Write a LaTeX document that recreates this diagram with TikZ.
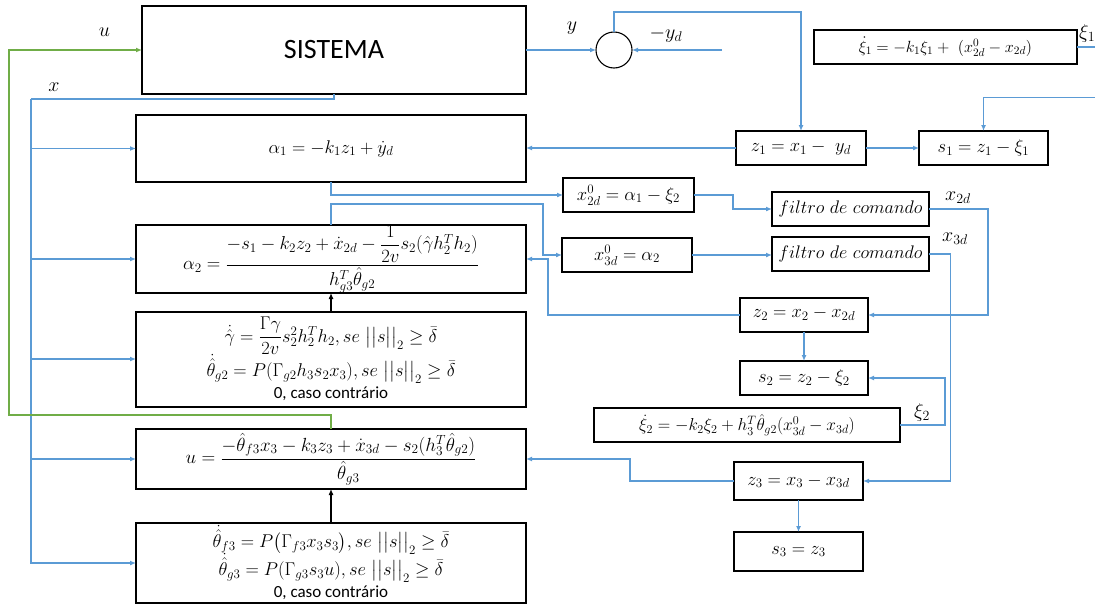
\RequirePackage{fix-cm}
\documentclass[tikz,border=0pt]{standalone}
\usepackage{amsmath}
\usepackage{fontspec}
\newfontfamily\calib{Carlito}
\usetikzlibrary{arrows.meta}
\definecolor{lblue}{RGB}{91,155,213}
\definecolor{lgreen}{RGB}{112,173,71}
\newcommand{\fs}[1]{\fontsize{#1}{#1}\selectfont}
\begin{document}
\begin{tikzpicture}[x=1pt,y=-1pt,
  box/.style={draw=black, line width=1.1pt, inner sep=0pt, outer sep=0pt,
    font=\fs{18.5}, align=center},
  txt/.style={inner sep=0pt, outer sep=0pt},
  bl/.style={draw=lblue, line width=1.5pt, -{Latex[length=6pt,width=5pt]}},
  bln/.style={draw=lblue, line width=1.5pt},
  gr/.style={draw=lgreen, line width=1.5pt, -{Latex[length=6pt,width=5pt]}},
  bk/.style={draw=black, line width=1.1pt, -{Latex[length=6pt,width=5pt]}},
  lab/.style={inner sep=0pt, font=\fs{20}}]
\useasboundingbox (0,0) rectangle (1095,608);
\fill[white] (0,0) rectangle (1095,608);

% boxes
\node[box, minimum width=384pt, minimum height=88pt] (sis) at (334,50) {\calib\fs{28}SISTEMA};
\node[box, font=\fs{18.4}, minimum width=390pt, minimum height=67pt] (a1) at (331,148.5) {$\alpha_1 = -k_1 z_1 + \dot{y}_d$};
\node[box, font=\fs{18.7}, minimum width=390pt, minimum height=68pt] (a2) at (331,259) {$\alpha_2 = \dfrac{-s_1 - k_2 z_2 + \dot{x}_{2d} - \dfrac{1}{2v}s_2(\hat{\gamma}h_2^T h_2)}{h_{g3}^T\hat{\theta}_{g2}}$};
\node[box, minimum width=390pt, minimum height=95pt] (gam) at (331,359.5) {};
\node[txt, font=\fs{18.5}] (gam1) at (331,336) {$\dot{\hat{\gamma}} = \dfrac{\Gamma\gamma}{2v}s_2^2h_2^Th_2, se\ \big|\big|s\big|\big|_2 \ge \bar{\delta}$};
\node[txt, font=\fs{18.5}] (gam2) at (331,369) {$\dot{\hat{\theta}}_{g2} = P(\Gamma_{g2}h_3s_2x_3), se\ \big|\big|s\big|\big|_2 \ge \bar{\delta}$};
\node[txt] (gam3) at (331,394) {\calib\fs{17}0, caso contrário};
\node[box, font=\fs{19}, minimum width=390pt, minimum height=60pt] (ub) at (331,459) {$u = \dfrac{-\hat{\theta}_{f3}x_3 - k_3 z_3 + \dot{x}_{3d} - s_2(h_3^T\hat{\theta}_{g2})}{\hat{\theta}_{g3}}$};
\node[box, minimum width=390pt, minimum height=80pt] (th) at (331,563) {};
\node[txt, font=\fs{18.5}] (th1) at (331,540) {$\dot{\hat{\theta}}_{f3} = P\big(\Gamma_{f3}x_3s_3\big), se\ \big|\big|s\big|\big|_2 \ge \bar{\delta}$};
\node[txt, font=\fs{18.5}] (th2) at (331,568) {$\dot{\hat{\theta}}_{g3} = P(\Gamma_{g3}s_3u), se\ \big|\big|s\big|\big|_2 \ge \bar{\delta}$};
\node[txt] (th3) at (331,593) {\calib\fs{17}0, caso contrário};
\node[draw=black, line width=1.1pt, circle, minimum size=36pt, inner sep=0pt, outer sep=0pt] (sum) at (614,50) {};
\node[box, minimum width=130pt, minimum height=34pt] (z1) at (801,148) {$z_1 = x_1 -\ y_d$};
\node[box, minimum width=129pt, minimum height=34pt] (s1) at (983.5,148) {$s_1 = z_1 - \xi_1$};
\node[box, font=\fs{16.2}, minimum width=263pt, minimum height=34pt] (xi1) at (945.5,47) {$\dot{\xi}_1 = -k_1\xi_1 +\ (x_{2d}^0 - x_{2d})$};
\node[box, minimum width=131pt, minimum height=34pt] (x2d0) at (628.5,195) {$x_{2d}^0 = \alpha_1 - \xi_2$};
\node[box, minimum width=130pt, minimum height=34pt] (x3d0) at (627,255) {$x_{3d}^0 = \alpha_2$};
\node[box, font=\fs{18.2}, minimum width=157pt, minimum height=34pt] (f1) at (850.5,209) {$filtro\ de\ comando$};
\node[box, font=\fs{18.2}, minimum width=157pt, minimum height=34pt] (f2) at (850.5,254) {$filtro\ de\ comando$};
\node[box, minimum width=128pt, minimum height=34pt] (z2) at (804,315) {\raisebox{6pt}{$z_2 = x_2 - x_{2d}$}};
\node[box, minimum width=128pt, minimum height=34pt] (s2) at (804,378) {$s_2 = z_2 - \xi_2$};
\node[box, font=\fs{17.3}, minimum width=306pt, minimum height=34pt] (xi2) at (747,425) {$\dot{\xi}_2 = -k_2\xi_2 + h_3^T\hat{\theta}_{g2}(x_{3d}^0 - x_{3d})$};
\node[box, minimum width=129pt, minimum height=38pt] (z3) at (798.5,481) {$z_3 = x_3 - x_{3d}$};
\node[box, minimum width=129pt, minimum height=39pt] (s3) at (798.5,551.5) {$s_3 = z_3$};

% labels
\node[lab] (lu) at (104.5,32) {$u$};
\node[lab] (lx) at (54,87) {$x$};
\node[lab] (ly) at (572,28) {$y$};
\node[lab] (lyd) at (666,35) {$-y_d$};
\node[lab] (lx2d) at (958,198) {$x_{2d}$};
\node[lab] (lx3d) at (955,239) {$x_{3d}$};
\node[lab, anchor=west] (lxi1) at (1079,33) {$\xi_1$};
\node[lab] (lxi2) at (922,412) {$\xi_2$};

% coordinates
\coordinate (yd) at (722,50);
\coordinate (xi1out) at (1095,47);
\coordinate (s1in) at (1095,97.7);
\coordinate (xc) at (31,99);

% system output / sum
\draw[bl] (sis.east) -- (sum.west);
\draw[bl] (yd) -- (sum.east);
\draw[bl] (sum.north) |- (801,12) -- (z1.north);
\draw[bl] (z1.east) -- (s1.west);
\draw[bl] (z1.west) -- (z1.west -| a1.east);
\draw[bln] (xi1.east) -- (xi1out);
\draw[bl] (s1in) -| (s1.north);

% state x bus
\draw[bln] (sis.south) |- (xc);
\draw[bl] (xc) |- (th.west);
\draw[bl] (xc |- a1.west) -- (a1.west);
\draw[bl] (xc |- a2.west) -- (a2.west);
\draw[bl] (xc |- 0,359) -- (gam.west |- 0,359);
\draw[bl] (xc |- ub.west) -- (ub.west);

% control u (green)
\draw[gr] (ub.north) |- (9,415) |- (sis.west);

% black arrows
\draw[bk] (gam.north) -- (a2.south);
\draw[bk] (th.north) -- (ub.south);

% virtual controls
\draw[bl] (a1.south) |- (x2d0.west);
\draw[bl] (a2.north) |- (543,204) |- (x3d0.west);
\draw[bl] (z2.west) -| (548,259) -- (a2.east);
\draw[bl] (x2d0.east) -| (733,209) -- (f1.west);
\draw[bl] (x3d0.east) -- (x3d0.east -| f2.west);
\draw[bl] (f1.east) -| (988,315) -- (z2.east);
\draw[bl] (f2.east) -| (950.7,481) -- (z3.east);
\draw[bl] (z2.south) -- (s2.north);
\draw[bl] (xi2.east) -| (945,378) -- (s2.east);
\draw[bl] (z3.west) -| (630,459) -- (ub.east);
\draw[bl] (z3.south) -- (s3.north);
\end{tikzpicture}
\end{document}
